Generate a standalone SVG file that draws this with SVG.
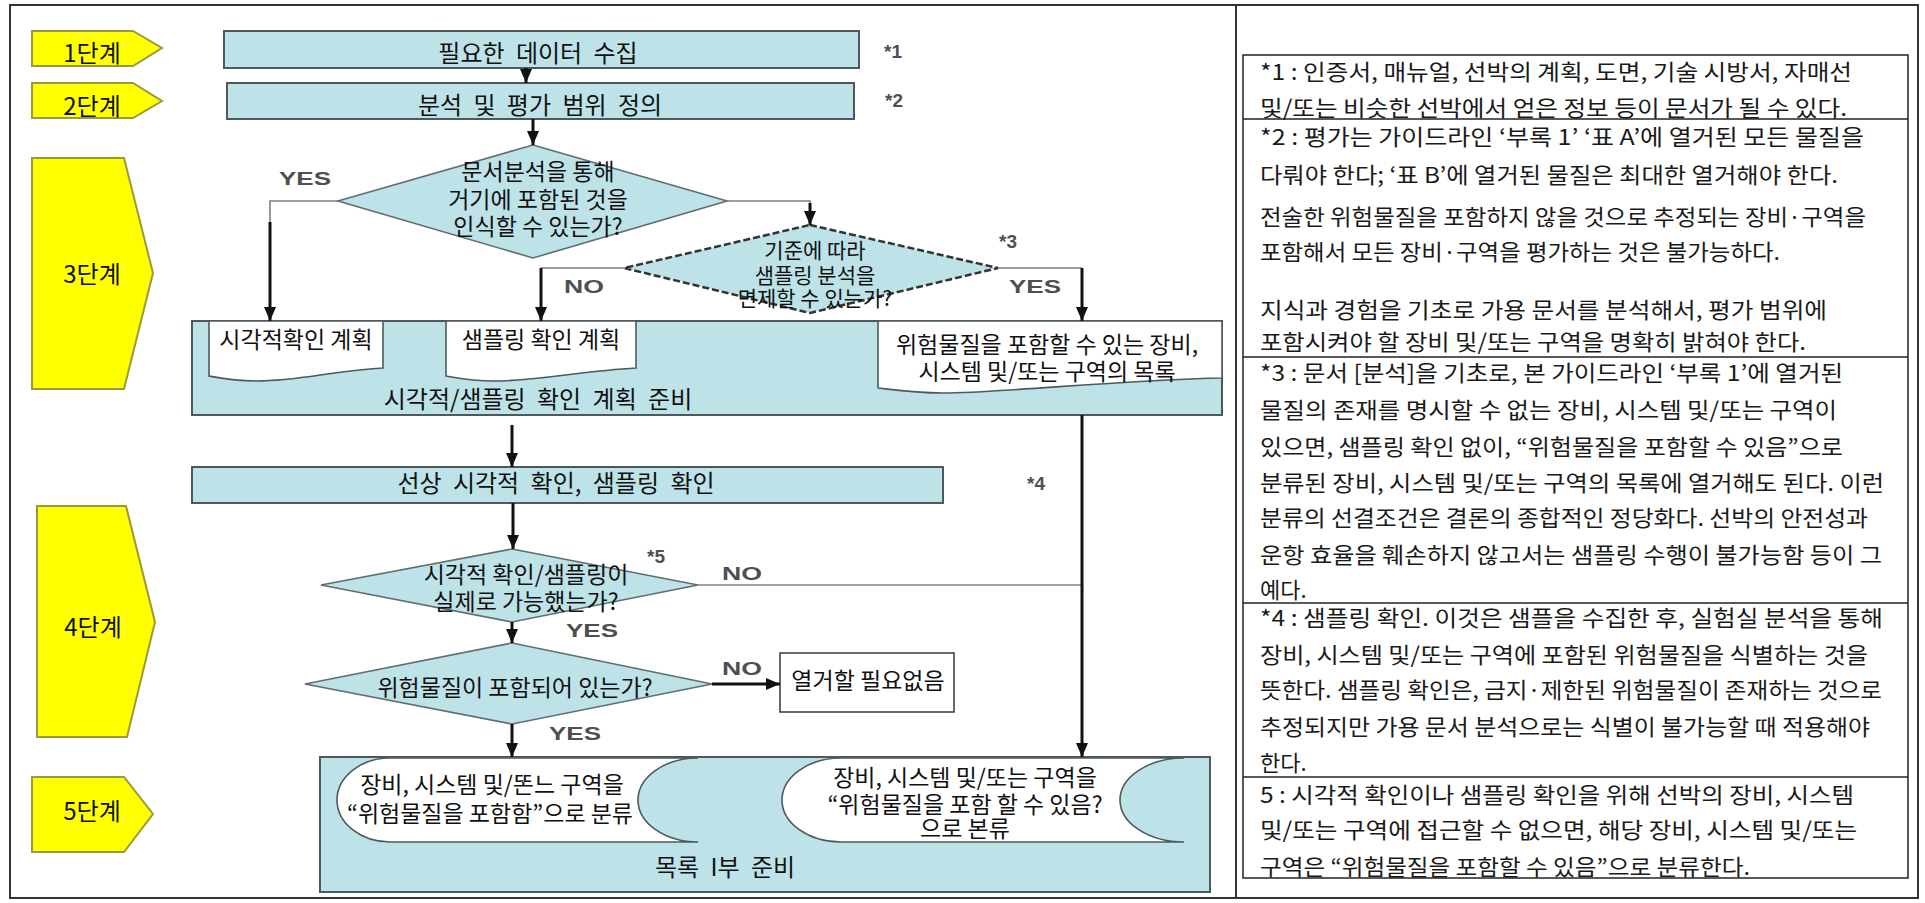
<svg xmlns="http://www.w3.org/2000/svg" width="1925" height="903" viewBox="0 0 1925 903">
<style>
.box{fill:#bde3e9;stroke:#4d5a5c;stroke-width:2}
.doc{fill:#ffffff;stroke:#4d5a5c;stroke-width:1.6}
.stage{fill:#ffff00;stroke:#9a9a3c;stroke-width:2}
.dia{fill:#bde3e9;stroke:#5f6e70;stroke-width:1.6}
.dia2{fill:#bde3e9;stroke:#333;stroke-width:2.5;stroke-dasharray:7 3}
.t{font-family:"Noto Sans CJK KR","Noto Sans",sans-serif;fill:#111;font-size:24px;word-spacing:6px}
.st{font-family:"Noto Sans CJK KR","Noto Sans",sans-serif;fill:#111;font-size:24px}
.n{font-family:"Noto Sans CJK KR","Noto Sans",sans-serif;fill:#111;font-size:23px}
.nd{font-family:"Noto Sans CJK KR","Noto Sans",sans-serif;fill:#111;font-size:21px}
.note{font-family:"Noto Sans CJK KR","Noto Sans",sans-serif;fill:#1a1a1a;font-size:22px}
.lbl{font-family:"Liberation Sans",Arial,sans-serif;font-weight:bold;fill:#4f4f4f;font-size:19px}
.thick{stroke:#111;stroke-width:3;fill:none}
.thin{stroke:#808080;stroke-width:1.6;fill:none}
.frame{fill:none;stroke:#333;stroke-width:2}
.grid{fill:none;stroke:#222;stroke-width:1.5}
</style>
<defs>
<marker id="ah" markerUnits="userSpaceOnUse" markerWidth="14" markerHeight="12" refX="14" refY="6" orient="auto">
<path d="M0,0 L14,6 L0,12 Z" fill="#111"/>
</marker>
</defs>
<rect width="1925" height="903" fill="#ffffff"/>
<rect class="frame" x="10" y="5" width="1908" height="893"/>
<line class="frame" x1="1236" y1="5" x2="1236" y2="898"/>

<g id="stage1"><path class="stage" d="M32,31 H133 L162,48 L133,66 H32 Z"/><text class="st" x="92" y="62" text-anchor="middle">1단계</text></g>
<g id="stage2"><path class="stage" d="M32,83 H133 L162,101 L133,118 H32 Z"/><text class="st" x="92" y="115" text-anchor="middle">2단계</text></g>
<g id="stage3"><path class="stage" d="M32,158 H124 L153,273 L124,389 H32 Z"/><text class="st" x="92" y="283" text-anchor="middle">3단계</text></g>
<g id="stage4"><path class="stage" d="M37,506 H126 L155,622 L127,737 H37 Z"/><text class="st" x="93" y="636" text-anchor="middle">4단계</text></g>
<g id="stage5"><path class="stage" d="M32,777 H124 L153,814 L124,852 H32 Z"/><text class="st" x="92" y="820" text-anchor="middle">5단계</text></g>

<g id="collect"><rect class="box" x="224" y="31" width="635" height="37"/><text class="t" x="538" y="62" text-anchor="middle">필요한 데이터 수집</text><text class="lbl" x="893" y="58" text-anchor="middle">*1</text></g>
<g id="scope"><rect class="box" x="227" y="83" width="627" height="36"/><text class="t" x="540" y="114" text-anchor="middle">분석 및 평가 범위 정의</text><text class="lbl" x="894" y="107" text-anchor="middle">*2</text></g>

<g id="decision1"><path class="dia" d="M533,145 L727,201 L533,258 L338,201 Z"/>
<text class="n" x="538" y="180" text-anchor="middle">문서분석을 통해</text>
<text class="n" x="538" y="208" text-anchor="middle">거기에 포함된 것을</text>
<text class="n" x="538" y="235" text-anchor="middle">인식할 수 있는가?</text></g>

<g id="decision2"><path class="dia2" d="M810,225 L998,268 L810,313 L624,268 Z"/>
<text class="nd" x="815" y="258" text-anchor="middle">기준에 따라</text>
<text class="nd" x="815" y="283" text-anchor="middle">샘플링 분석을</text>
<text class="nd" x="815" y="306" text-anchor="middle">면제할 수 있는가?</text>
<text class="lbl" x="1008" y="248" text-anchor="middle" font-size="21">*3</text></g>

<g id="plan-prep"><rect class="box" x="192" y="321" width="1030" height="94"/>
<text class="t" x="538" y="408" text-anchor="middle">시각적/샘플링 확인 계획 준비</text></g>
<g id="visual-plan"><path class="doc" d="M209,321 H383 V368 C330,371 300,381 257,381 C235,381 220,378 209,376 Z"/><text class="n" x="296" y="348" text-anchor="middle">시각적확인 계획</text></g>
<g id="sampling-plan"><path class="doc" d="M446,321 H636 V368 C580,371 540,381 493,381 C471,381 458,378 446,376 Z"/><text class="n" x="541" y="348" text-anchor="middle">샘플링 확인 계획</text></g>
<g id="may-contain-list"><path class="doc" d="M878,321 H1222 V378 C1120,380 1000,393 943,393 C915,393 895,390 878,388 Z"/>
<text class="n" x="1047" y="353" text-anchor="middle">위험물질을 포함할 수 있는 장비,</text>
<text class="n" x="1047" y="380" text-anchor="middle">시스템 및/또는 구역의 목록</text></g>

<g id="onboard"><rect class="box" x="192" y="467" width="751" height="36"/><text class="t" x="556" y="492" text-anchor="middle">선상 시각적 확인, 샘플링 확인</text><text class="lbl" x="1036" y="490" text-anchor="middle">*4</text></g>

<g id="decision3"><path class="dia" d="M512,549 L698,585 L512,622 L321,585 Z"/>
<text class="n" x="526" y="583" text-anchor="middle">시각적 확인/샘플링이</text>
<text class="n" x="526" y="610" text-anchor="middle">실제로 가능했는가?</text>
<text class="lbl" x="656" y="563" text-anchor="middle">*5</text></g>

<g id="decision4"><path class="dia" d="M512,643 L712,684 L512,724 L305,684 Z"/>
<text class="n" x="515" y="696" text-anchor="middle">위험물질이 포함되어 있는가?</text></g>

<g id="no-list"><rect x="780" y="653" width="174" height="59" fill="#fff" stroke="#444" stroke-width="1.6"/><text class="n" x="868" y="689" text-anchor="middle">열거할 필요없음</text></g>

<g id="inventory"><rect class="box" x="320" y="757" width="890" height="135"/>
<text class="t" x="725" y="876" text-anchor="middle">목록 I부 준비</text></g>
<g id="contains"><path class="doc" d="M390,758 H698 A60,42 0 0 0 698,842 H390 A53,42 0 0 1 390,758 Z"/>
<text class="n" x="492" y="793" text-anchor="middle">장비, 시스템 및/똔느 구역을</text>
<text class="n" x="490" y="822" text-anchor="middle">“위험물질을 포함함”으로 분류</text></g>
<g id="may-contain"><path class="doc" d="M841,758 H1184 A64,42 0 0 0 1184,842 H841 A59,42 0 0 1 841,758 Z"/>
<text class="n" x="965" y="786" text-anchor="middle">장비, 시스템 및/또는 구역을</text>
<text class="n" x="965" y="813" text-anchor="middle">“위험물질을 포함 할 수 있음?</text>
<text class="n" x="965" y="837" text-anchor="middle">으로 본류</text></g>

<g id="connectors">
<line class="thick" x1="526" y1="68" x2="526" y2="83" marker-end="url(#ah)"/>
<line class="thick" x1="533" y1="119" x2="533" y2="145" marker-end="url(#ah)"/>
<polyline class="thin" points="338,201 270,201 270,225"/>
<line class="thick" x1="270" y1="222" x2="270" y2="321" marker-end="url(#ah)"/>
<polyline class="thin" points="727,201 810,201 810,205"/>
<line class="thick" x1="810" y1="203" x2="810" y2="225" marker-end="url(#ah)"/>
<polyline class="thin" points="624,268 541,268"/>
<line class="thick" x1="541" y1="268" x2="541" y2="321" marker-end="url(#ah)"/>
<polyline class="thin" points="998,268 1082,268"/>
<line class="thick" x1="1082" y1="268" x2="1082" y2="321" marker-end="url(#ah)"/>
<line class="thick" x1="512" y1="425" x2="512" y2="467" marker-end="url(#ah)"/>
<line class="thick" x1="513" y1="503" x2="513" y2="549" marker-end="url(#ah)"/>
<line class="thin" x1="698" y1="585" x2="1082" y2="585"/>
<line class="thick" x1="1082" y1="415" x2="1082" y2="757" marker-end="url(#ah)" stroke-width="2.5"/>
<line class="thick" x1="512" y1="622" x2="512" y2="643" marker-end="url(#ah)"/>
<line class="thick" x1="712" y1="684" x2="780" y2="684" marker-end="url(#ah)" stroke-width="2.5"/>
<line class="thick" x1="512" y1="724" x2="512" y2="757" marker-end="url(#ah)"/>
<text class="lbl" x="305" y="185" text-anchor="middle" textLength="52" lengthAdjust="spacingAndGlyphs">YES</text>
<text class="lbl" x="584" y="293" text-anchor="middle" textLength="40" lengthAdjust="spacingAndGlyphs">NO</text>
<text class="lbl" x="1035" y="293" text-anchor="middle" textLength="52" lengthAdjust="spacingAndGlyphs">YES</text>
<text class="lbl" x="742" y="580" text-anchor="middle" textLength="40" lengthAdjust="spacingAndGlyphs">NO</text>
<text class="lbl" x="592" y="637" text-anchor="middle" textLength="52" lengthAdjust="spacingAndGlyphs">YES</text>
<text class="lbl" x="742" y="675" text-anchor="middle" textLength="40" lengthAdjust="spacingAndGlyphs">NO</text>
<text class="lbl" x="575" y="740" text-anchor="middle" textLength="52" lengthAdjust="spacingAndGlyphs">YES</text>
</g>

<g id="notes">
<rect class="grid" x="1243" y="55" width="665" height="823"/>
<line class="grid" x1="1243" y1="119" x2="1908" y2="119"/>
<line class="grid" x1="1243" y1="357" x2="1908" y2="357"/>
<line class="grid" x1="1243" y1="603" x2="1908" y2="603"/>
<line class="grid" x1="1243" y1="777" x2="1908" y2="777"/>
<g class="note">
<text x="1260" y="80" textLength="592" lengthAdjust="spacingAndGlyphs">*1 : 인증서, 매뉴얼, 선박의 계획, 도면, 기술 시방서, 자매선</text>
<text x="1260" y="116" textLength="587" lengthAdjust="spacingAndGlyphs">및/또는 비슷한 선박에서 얻은 정보 등이 문서가 될 수 있다.</text>
<text x="1260" y="145" textLength="604" lengthAdjust="spacingAndGlyphs">*2 : 평가는 가이드라인 ‘부록 1’ ‘표 A’에 열거된 모든 물질을</text>
<text x="1260" y="183" textLength="578" lengthAdjust="spacingAndGlyphs">다뤄야 한다; ‘표 B’에 열거된 물질은 최대한 열거해야 한다.</text>
<text x="1260" y="225" textLength="606" lengthAdjust="spacingAndGlyphs">전술한 위험물질을 포함하지 않을 것으로 추정되는 장비·구역을</text>
<text x="1260" y="260" textLength="520" lengthAdjust="spacingAndGlyphs">포함해서 모든 장비·구역을 평가하는 것은 불가능하다.</text>
<text x="1260" y="318" textLength="567" lengthAdjust="spacingAndGlyphs">지식과 경험을 기초로 가용 문서를 분석해서, 평가 범위에</text>
<text x="1260" y="350" textLength="546" lengthAdjust="spacingAndGlyphs">포함시켜야 할 장비 및/또는 구역을 명확히 밝혀야 한다.</text>
<text x="1260" y="381" textLength="583" lengthAdjust="spacingAndGlyphs">*3 : 문서 [분석]을 기초로, 본 가이드라인 ‘부록 1’에 열거된</text>
<text x="1260" y="418" textLength="577" lengthAdjust="spacingAndGlyphs">물질의 존재를 명시할 수 없는 장비, 시스템 및/또는 구역이</text>
<text x="1260" y="455" textLength="583" lengthAdjust="spacingAndGlyphs">있으면, 샘플링 확인 없이, “위험물질을 포함할 수 있음”으로</text>
<text x="1260" y="491" textLength="624" lengthAdjust="spacingAndGlyphs">분류된 장비, 시스템 및/또는 구역의 목록에 열거해도 된다. 이런</text>
<text x="1260" y="526" textLength="608" lengthAdjust="spacingAndGlyphs">분류의 선결조건은 결론의 종합적인 정당화다. 선박의 안전성과</text>
<text x="1260" y="563" textLength="622" lengthAdjust="spacingAndGlyphs">운항 효율을 훼손하지 않고서는 샘플링 수행이 불가능함 등이 그</text>
<text x="1260" y="598">예다.</text>
<text x="1260" y="626" textLength="623" lengthAdjust="spacingAndGlyphs">*4 : 샘플링 확인. 이것은 샘플을 수집한 후, 실험실 분석을 통해</text>
<text x="1260" y="663" textLength="608" lengthAdjust="spacingAndGlyphs">장비, 시스템 및/또는 구역에 포함된 위험물질을 식별하는 것을</text>
<text x="1260" y="698" textLength="622" lengthAdjust="spacingAndGlyphs">뜻한다. 샘플링 확인은, 금지·제한된 위험물질이 존재하는 것으로</text>
<text x="1260" y="735" textLength="610" lengthAdjust="spacingAndGlyphs">추정되지만 가용 문서 분석으로는 식별이 불가능할 때 적용해야</text>
<text x="1260" y="771">한다.</text>
<text x="1260" y="803" textLength="594" lengthAdjust="spacingAndGlyphs">5 : 시각적 확인이나 샘플링 확인을 위해 선박의 장비, 시스템</text>
<text x="1260" y="838" textLength="597" lengthAdjust="spacingAndGlyphs">및/또는 구역에 접근할 수 없으면, 해당 장비, 시스템 및/또는</text>
<text x="1260" y="875" textLength="490" lengthAdjust="spacingAndGlyphs">구역은 “위험물질을 포함할 수 있음”으로 분류한다.</text>
</g>
</g>
</svg>
